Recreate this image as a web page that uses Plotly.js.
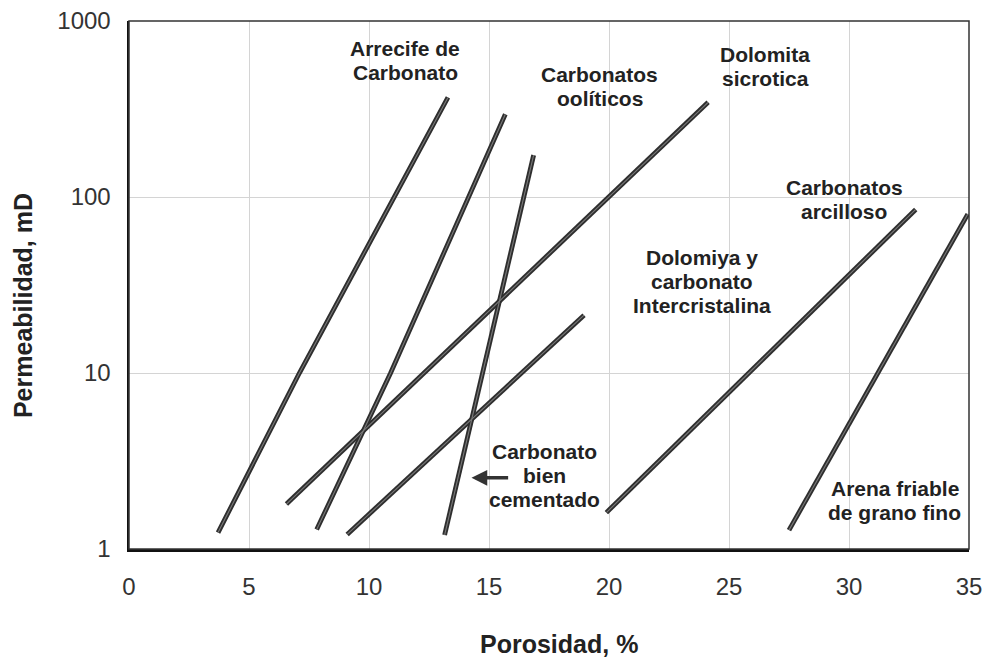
<!DOCTYPE html>
<html>
<head>
<meta charset="utf-8">
<script src="https://cdn.plot.ly/plotly-3.0.1.min.js"></script>
<style>html,body{margin:0;padding:0;background:#fff;}#chart{width:987px;height:658px;}</style>
</head>
<body>
<div id="chart"></div>
<script>
// ---- Data (porosity %, permeability mD) ----
var arrecifeX = [3.71, 7.1, 13.29];
var arrecifeY = [1.24, 10, 368];
var ooliticosX = [7.82, 10.9, 15.68];
var ooliticosY = [1.29, 10, 295];
var dolomitaSicroticaX = [6.56, 24.13];
var dolomitaSicroticaY = [1.80, 345];
var bienCementadoX = [13.15, 16.86];
var bienCementadoY = [1.20, 173];
var intercristalinaX = [9.09, 18.96];
var intercristalinaY = [1.21, 21.3];
var arcillosoX = [19.89, 32.78];
var arcillosoY = [1.61, 85];
var arenaX = [27.5, 34.95];
var arenaY = [1.28, 80];

var labelTexts = [
  ["Arrecife de", "Carbonato"],
  ["Carbonatos", "oolíticos"],
  ["Dolomita", "sicrotica"],
  ["Carbonatos", "arcilloso"],
  ["Dolomiya y", "carbonato", "Intercristalina"],
  ["Carbonato", "bien", "cementado"],
  ["Arena friable", "de grano fino"]
];
var labelX = [11.51, 19.61, 26.52, 29.8, 23.88, 17.32, 31.9];
var labelY = [593, 422, 553, 97.2, 33.3, 2.62, 1.89];

var arrowFrom = [15.86, 2.54];
var arrowTo = [14.27, 2.54];

var xTitle = "Porosidad, %";
var yTitle = "Permeabilidad, mD";

var xTickVals = [0, 5, 10, 15, 20, 25, 30, 35];
var yTickVals = [1, 10, 100, 1000];
var yTickText = ["1", "10", "100", "1000"];

// ---- Build traces ----
var series = [
  [arrecifeX, arrecifeY], [ooliticosX, ooliticosY], [dolomitaSicroticaX, dolomitaSicroticaY],
  [bienCementadoX, bienCementadoY], [intercristalinaX, intercristalinaY],
  [arcillosoX, arcillosoY], [arenaX, arenaY]
];
var traces = [];
series.forEach(function (s) {
  traces.push({x: s[0], y: s[1], mode: 'lines', line: {color: '#2e2e2e', width: 4.8}, hoverinfo: 'skip', showlegend: false});
});
series.forEach(function (s) {
  traces.push({x: s[0], y: s[1], mode: 'lines', line: {color: '#7a7a7a', width: 1.1}, hoverinfo: 'skip', showlegend: false});
});

var annFont = {family: 'Liberation Sans, Arial, sans-serif', size: 21, color: '#222'};
var lineGap = 24;
var annotations = [];
labelTexts.forEach(function (lines, i) {
  var n = lines.length;
  lines.forEach(function (t, j) {
    annotations.push({x: labelX[i], y: Math.log10(labelY[i]), xref: 'x', yref: 'y', text: '<b>' + t + '</b>',
      showarrow: false, font: annFont, xanchor: 'center', yanchor: 'middle',
      yshift: ((n - 1) / 2 - j) * lineGap});
  });
});
annotations.push({
  x: arrowTo[0], y: Math.log10(arrowTo[1]), ax: arrowFrom[0], ay: Math.log10(arrowFrom[1]),
  xref: 'x', yref: 'y', axref: 'x', ayref: 'y', text: '', showarrow: true,
  arrowhead: 2, arrowsize: 0.9, arrowwidth: 3.5, arrowcolor: '#333'
});
var titleFont = {family: 'Liberation Sans, Arial, sans-serif', size: 25, color: '#222'};
annotations.push({xref: 'paper', yref: 'paper', x: 0.512, y: -0.18, text: '<b>' + xTitle + '</b>',
  showarrow: false, font: titleFont, xanchor: 'center', yanchor: 'middle'});
annotations.push({xref: 'paper', yref: 'paper', x: -0.1262, y: 0.462, text: '<b>' + yTitle + '</b>',
  showarrow: false, font: titleFont, xanchor: 'center', yanchor: 'middle', textangle: -90});

var layout = {
  width: 987, height: 658,
  margin: {l: 129, r: 18, t: 21, b: 109, pad: 0},
  paper_bgcolor: '#fff', plot_bgcolor: '#fff',
  font: {family: 'Liberation Sans, Arial, sans-serif', color: '#222'},
  xaxis: {
    range: [0, 35], tickvals: xTickVals, showgrid: true, gridcolor: '#d4d4d4', gridwidth: 1,
    zeroline: false, showline: true, linecolor: '#111', linewidth: 2.5, ticks: '',
    tickfont: {size: 24, color: '#333'}, automargin: false, ticklabelstandoff: 15
  },
  yaxis: {
    type: 'log', range: [0, 3], tickvals: yTickVals, ticktext: yTickText,
    showgrid: true, gridcolor: '#d4d4d4', gridwidth: 1,
    zeroline: false, showline: true, linecolor: '#111', linewidth: 2.5, ticks: '',
    tickfont: {size: 24, color: '#333'}, automargin: false, ticklabelstandoff: 11
  },
  shapes: [{type: 'rect', xref: 'paper', yref: 'paper', x0: 0, x1: 1, y0: 0, y1: 1,
    line: {color: '#333', width: 1.5}}],
  annotations: annotations
};

Plotly.newPlot('chart', traces, layout, {displayModeBar: false, staticPlot: true});
</script>
</body>
</html>
